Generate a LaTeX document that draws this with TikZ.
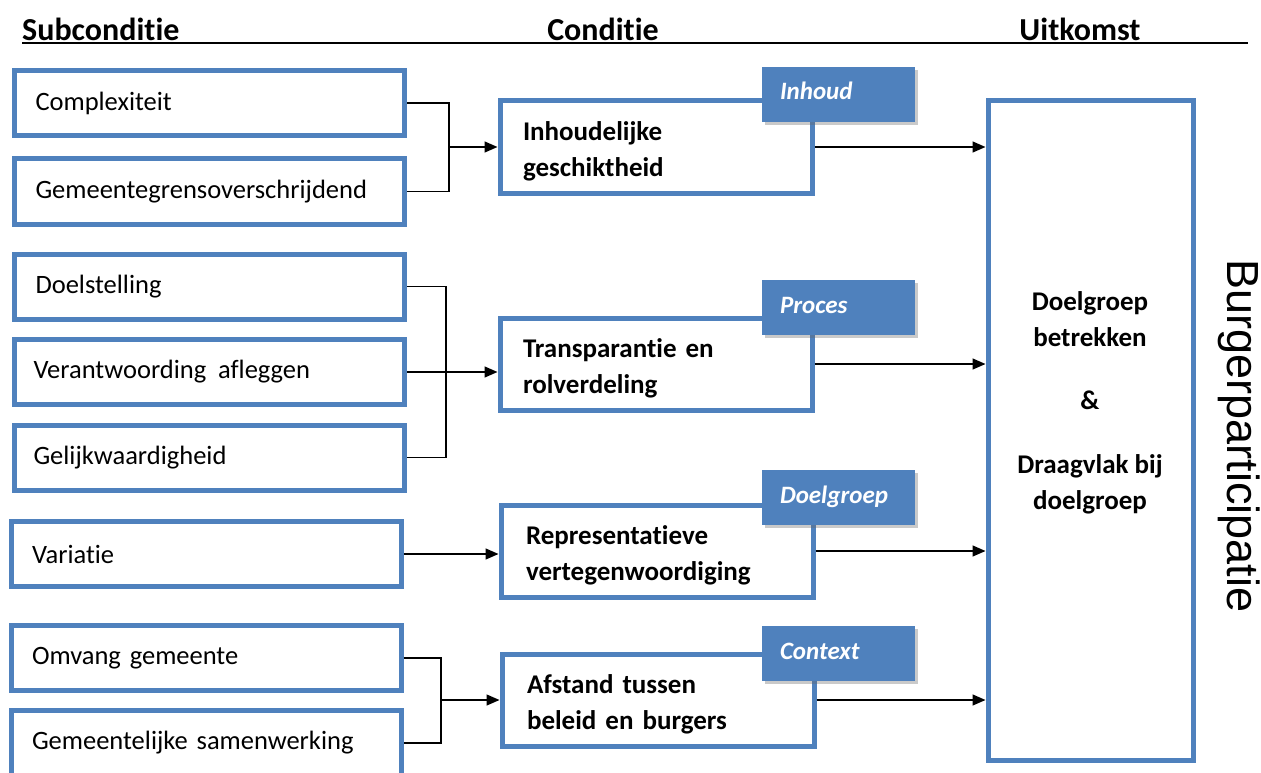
\documentclass[tikz,border=0pt]{standalone}
\usepackage{fontspec}
\setmainfont{Carlito}[RawFeature={-liga;-clig;-calt;-dlig}]
\newfontfamily\arialf{Liberation Sans}
\usetikzlibrary{arrows.meta,shadows}
\definecolor{boxblue}{HTML}{4F81BD}
\newcommand{\topstrut}{\rule{0pt}{28pt}}
\begin{document}
\begin{tikzpicture}[x=1pt,y=-1pt,
  sbox/.style={draw=boxblue,line width=5pt,fill=white,minimum width=390pt,minimum height=65pt,
    inner xsep=21pt,inner ysep=0pt,text width=348pt,align=left,
    font=\fontsize{26.5}{32}\selectfont},
  mbox/.style={draw=boxblue,line width=5pt,fill=white,minimum width=312pt,minimum height=92pt,
    inner xsep=23pt,inner ysep=0pt,text width=266pt,align=left,
    font=\fontsize{27}{36}\selectfont\bfseries},
  tagbox/.style={fill=boxblue,minimum width=153pt,minimum height=55pt,inner xsep=18pt,inner ysep=0pt,
    text width=117pt,align=left,text=white,font=\fontsize{25}{30}\selectfont\bfseries\itshape,
    text height=17pt,text depth=6pt,
    drop shadow={shadow xshift=3pt,shadow yshift=-3pt,opacity=0.35,fill=black!60}},
  hdr/.style={font=\fontsize{32}{38}\selectfont\bfseries,inner sep=0pt},
  conn/.style={draw=black,line width=1.4pt},
  arr/.style={conn,-{Triangle[length=13pt,width=11pt]}}
]
\useasboundingbox (0,0) rectangle (1261,773);

% headers
\node[hdr,anchor=west] (h1) at (22,29) {Subconditie};
\node[hdr] (h2) at (603,29) {Conditie};
\node[hdr] (h3) at (1080,29) {Uitkomst};
\coordinate (ul1) at (22,43);
\coordinate (ul2) at (1248,43);
\draw[line width=2.5pt] (ul1) -- (ul2);

% sub conditions
\node[sbox] (s1) at (209.5,103) {Complexiteit};
\node[sbox] (s2) at (209.5,191.5) {Gemeentegrensoverschrijdend};
\node[sbox] (s3) at (209.5,286.5) {Doelstelling};
\node[sbox,inner xsep=19pt,text width=352pt] (s4) at (209.5,372) {Verantwoording\hspace{3pt} afleggen};
\node[sbox,inner xsep=19pt,text width=352pt] (s5) at (209.5,457.5) {Gelijkwaardigheid};
\node[sbox,minimum width=388pt] (s6) at (206,554) {Variatie};
\node[sbox] (s7) at (206,658) {Omvang gemeente};
\node[sbox] (s8) at (206,743) {Gemeentelijke samenwerking};

% conditions
\node[mbox] (A) at (656,147) {\topstrut Inhoudelijke\\geschiktheid};
\node[mbox] (B) at (656,364) {\topstrut Transparantie en\\rolverdeling};
\node[mbox,inner xsep=25pt,text width=262pt] (C) at (657,551) {\topstrut Representatieve\\vertegenwoordiging};
\node[mbox,inner xsep=25pt,text width=262pt] (D) at (658,700) {\topstrut Afstand tussen\\beleid en burgers};

% tags
\node[tagbox] (tA) at (838.5,94.5) {Inhoud};
\node[tagbox] (tB) at (838.5,307.5) {Proces};
\node[tagbox] (tC) at (838.5,497.5) {Doelgroep};
\node[tagbox] (tD) at (838.5,653.5) {Context};

% outcome
\node[draw=boxblue,line width=5pt,fill=white,minimum width=205pt,minimum height=659pt] (out) at (1090.5,430.5) {};
\node[font=\fontsize{27}{36}\selectfont\bfseries,align=center,inner sep=0pt] (outtxt) at (1090,403)
  {Doelgroep\\betrekken\\[27pt]\&\\[28pt]Draagvlak bij\\doelgroep};
\node[font=\arialf\fontsize{45}{50}\selectfont,rotate=-90,inner sep=0pt] (bp) at (1239,436) {Burgerparticipatie};

% connectors group 1
\coordinate (j1) at (449,146);
\draw[conn] (s1.east) -- (s1.east -| j1) -- (s2.east -| j1) -- (s2.east);
\draw[arr] (j1 |- A.west) -- (A.west);
% group 2
\coordinate (j2) at (446,372);
\draw[conn] (s3.east) -- (s3.east -| j2) -- (s5.east -| j2) -- (s5.east);
\draw[arr] (s4.east) -- (s4.east -| B.west);
% variatie
\draw[arr] (s6.east) -- (s6.east -| C.west);
% group 4
\coordinate (j4) at (441,700);
\draw[conn] (s7.east) -- (s7.east -| j4) -- (s8.east -| j4) -- (s8.east);
\draw[arr] (D.west -| j4) -- (D.west);

% to outcome
\draw[arr] (A.east) -- (A.east -| out.west);
\draw[arr] (B.east) -- (B.east -| out.west);
\draw[arr] (C.east) -- (C.east -| out.west);
\draw[arr] (D.east) -- (D.east -| out.west);
\end{tikzpicture}
\end{document}
